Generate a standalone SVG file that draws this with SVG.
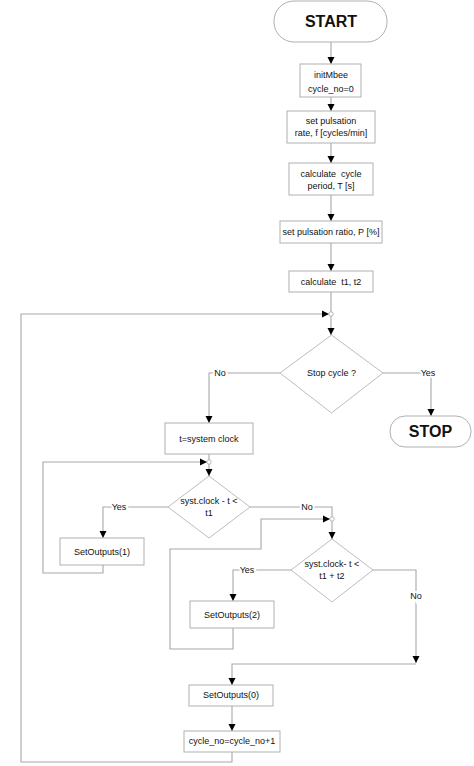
<svg xmlns="http://www.w3.org/2000/svg" width="474" height="766" viewBox="0 0 474 766">
<defs>
<style>
.bx{fill:#fff;stroke:#b0b0b0;stroke-width:1}
.dm{fill:#fff;stroke:#bdbdbd;stroke-width:1}
.ln{fill:none;stroke:#a8a8a8;stroke-width:1.1}
.ar{marker-end:url(#ah)}
.jc{fill:#fff;stroke:#a8a8a8;stroke-width:0.8}
.t{font-family:"Liberation Sans",Arial,sans-serif;font-size:9px;fill:#111;text-anchor:middle}
.tb{font-family:"Liberation Sans",Arial,sans-serif;font-size:16px;font-weight:bold;fill:#111;text-anchor:middle}
.lb{font-family:"Liberation Sans",Arial,sans-serif;font-size:9px;fill:#111;text-anchor:middle;stroke:#fff;stroke-width:4;paint-order:stroke}
.pre{white-space:pre}
</style>
<marker id="ah" markerWidth="7" markerHeight="8" refX="7" refY="4" orient="auto" markerUnits="userSpaceOnUse">
<path d="M0,0.5 L7,4 L0,7.5 z" fill="#000"/>
</marker>
</defs>
<rect width="474" height="766" fill="#fff"/>
<g id="connectors">
<path class="ln ar" d="M331,42 V64"/>
<path class="ln ar" d="M331,97 V111"/>
<path class="ln ar" d="M331,143 V163"/>
<path class="ln ar" d="M331,195 V221"/>
<path class="ln ar" d="M331,243 V271"/>
<path class="ln" d="M331,292 V312"/>
<path class="ln ar" d="M331,316 V335"/>
<path class="ln ar" d="M232,752 V762 H21 V314 H329"/>
<path class="ln ar" d="M280,373 H209 V423"/>
<path class="ln ar" d="M383,373 H431 V416"/>
<path class="ln" d="M209,454 V460"/>
<path class="ln ar" d="M209,464 V476"/>
<path class="ln ar" d="M103,565 V573 H43 V462 H207"/>
<path class="ln ar" d="M168,507 H103 V538"/>
<path class="ln" d="M250,507 H332 V517"/>
<path class="ln ar" d="M332,521 V539"/>
<path class="ln ar" d="M233,628 V649 H170 V549 H261 V519 H330"/>
<path class="ln ar" d="M291,570 H233 V601"/>
<path class="ln ar" d="M373,570 H416 V663"/>
<path class="ln ar" d="M416,664 H232 V685"/>
<path class="ln ar" d="M232,706 V731"/>
<circle class="jc" cx="331" cy="314" r="2.2"/>
<circle class="jc" cx="209" cy="462" r="2.2"/>
<circle class="jc" cx="332" cy="519" r="2.2"/>
<text class="lb" x="220" y="376">No</text>
<text class="lb" x="428" y="376">Yes</text>
<text class="lb" x="119" y="510">Yes</text>
<text class="lb" x="307" y="510">No</text>
<text class="lb" x="247" y="573">Yes</text>
<text class="lb" x="416" y="599">No</text>
</g>
<g id="start">
<rect class="bx" x="274" y="1" width="113" height="41" rx="20" ry="20"/>
<text class="tb" x="331" y="27">START</text>
</g>
<g id="init">
<rect class="bx" x="300" y="64" width="61" height="33"/>
<text class="t" x="331" y="77.5">initMbee</text>
<text class="t" x="331" y="91.5">cycle_no=0</text>
</g>
<g id="setrate">
<rect class="bx" x="287" y="111" width="88" height="32"/>
<text class="t" x="331" y="124">set pulsation</text>
<text class="t" x="331" y="136">rate, f [cycles/min]</text>
</g>
<g id="calcperiod">
<rect class="bx" x="289" y="163" width="84" height="32"/>
<text class="t pre" x="331" y="177">calculate  cycle</text>
<text class="t" x="331" y="189">period, T [s]</text>
</g>
<g id="setratio">
<rect class="bx" x="280" y="221" width="102" height="22"/>
<text class="t" x="331" y="235">set pulsation ratio, P [%]</text>
</g>
<g id="calct">
<rect class="bx" x="289" y="271" width="84" height="21"/>
<text class="t pre" x="331" y="285">calculate  t1, t2</text>
</g>
<g id="stopcycle">
<polygon class="dm" points="331.5,335 383,373 331.5,413 280,373"/>
<text class="t" x="331.5" y="376">Stop cycle ?</text>
</g>
<g id="stop">
<rect class="bx" x="390" y="416" width="81" height="31" rx="15" ry="15"/>
<text class="tb" x="430.5" y="437">STOP</text>
</g>
<g id="tclock">
<rect class="bx" x="165" y="423" width="88" height="31"/>
<text class="t" x="209" y="442">t=system clock</text>
</g>
<g id="cond1">
<polygon class="dm" points="209,476 250,507 209,538 168,507"/>
<text class="t" x="209" y="504">syst.clock - t &lt;</text>
<text class="t" x="209" y="516">t1</text>
</g>
<g id="out1">
<rect class="bx" x="60" y="538" width="84" height="27"/>
<text class="t" x="102" y="555">SetOutputs(1)</text>
</g>
<g id="cond2">
<polygon class="dm" points="332,539 373,570 332,602 291,570"/>
<text class="t" x="332" y="567">syst.clock- t &lt;</text>
<text class="t" x="332" y="579">t1 + t2</text>
</g>
<g id="out2">
<rect class="bx" x="190" y="601" width="84" height="27"/>
<text class="t" x="232" y="618">SetOutputs(2)</text>
</g>
<g id="out0">
<rect class="bx" x="189" y="685" width="84" height="21"/>
<text class="t" x="231" y="698">SetOutputs(0)</text>
</g>
<g id="incr">
<rect class="bx" x="184" y="731" width="96" height="21"/>
<text class="t" x="232" y="744">cycle_no=cycle_no+1</text>
</g>
</svg>
